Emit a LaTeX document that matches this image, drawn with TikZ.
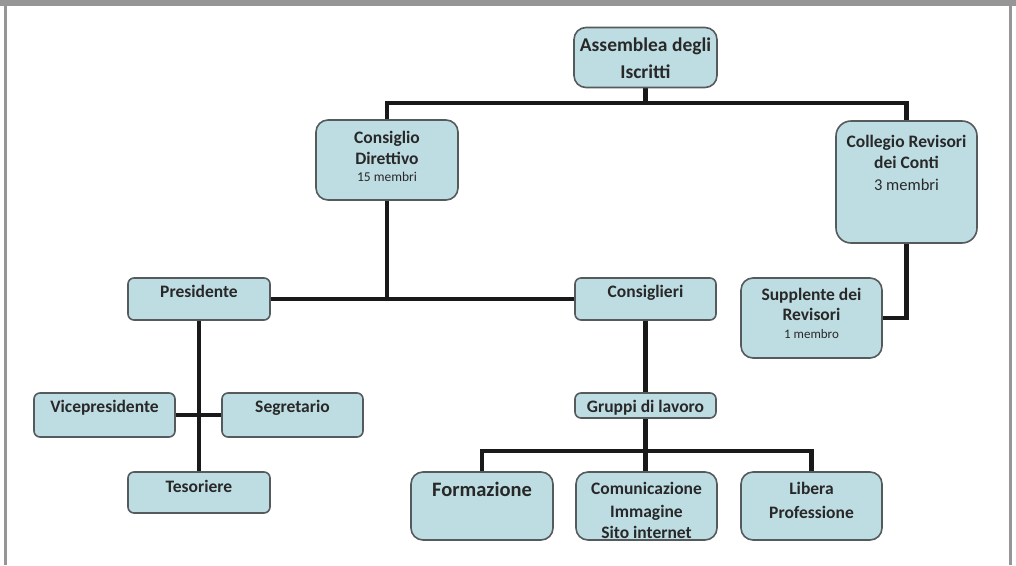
\documentclass[tikz,border=0pt]{standalone}
\usepackage{fontspec}
\setmainfont{Carlito}
\usetikzlibrary{calc,backgrounds}
\definecolor{boxfill}{RGB}{190,221,227}
\definecolor{boxline}{RGB}{85,90,92}
\definecolor{txtcol}{RGB}{40,40,40}
\definecolor{framecol}{RGB}{150,150,150}
\tikzset{
  box/.style={draw=boxline, line width=1.6pt, fill=boxfill, rounded corners=12pt, inner sep=0pt},
  smallbox/.style={box, rounded corners=6pt},
  txt/.style={inner sep=0pt, align=center, text=txtcol, anchor=north, font=\bfseries\fontsize{17.5}{21}\selectfont},
  link/.style={line width=4.5pt, draw=black!90},
}
\begin{document}
\begin{tikzpicture}[x=1pt,y=-1pt]
\useasboundingbox (0,0) rectangle (1016,565);
% frame
\fill[framecol] (0,0) rectangle (1016,6);
\fill[framecol] (4,0) rectangle (7,565);
\fill[framecol] (1009,0) rectangle (1012,565);

% boxes
\node[box, minimum width=143pt, minimum height=60pt] (asm) at (645.5,57.5) {};
\node[box, minimum width=142pt, minimum height=80pt] (cd) at (387,160) {};
\node[box, rounded corners=15pt, minimum width=141pt, minimum height=122pt] (crc) at (906.5,182) {};
\node[box, minimum width=141pt, minimum height=80pt] (sup) at (811.5,318) {};
\node[smallbox, minimum width=142pt, minimum height=42pt] (pres) at (199,299) {};
\node[smallbox, minimum width=141pt, minimum height=42pt] (cons) at (645.5,299) {};
\node[smallbox, minimum width=141pt, minimum height=44pt] (vice) at (104.5,415) {};
\node[smallbox, minimum width=141pt, minimum height=44pt] (seg) at (292.5,415) {};
\node[smallbox, minimum width=142pt, minimum height=41pt] (tes) at (199,492.5) {};
\node[smallbox, minimum width=141pt, minimum height=25pt] (grp) at (645.5,405.5) {};
\node[box, minimum width=142pt, minimum height=68pt] (form) at (482,506) {};
\node[box, minimum width=141pt, minimum height=68pt] (com) at (646.5,506) {};
\node[box, minimum width=141pt, minimum height=68pt] (lib) at (811.5,506) {};

% texts
\node[txt, font=\bfseries\fontsize{19.5}{21}\selectfont] (tasm) at ($(asm.north)+(0,11.3)$) {Assemblea degli\\[6pt]Iscritti};
\node[txt] (tcd) at ($(cd.north)+(0,11.7)$) {Consiglio\\Direttivo\\[-4pt]{\mdseries\fontsize{13.5}{15}\selectfont 15 membri}};
\node[txt] (tcrc) at ($(crc.north)+(0,15.2)$) {Collegio Revisori\\[0pt]dei Conti\\[0.5pt]{\mdseries\fontsize{16.5}{18}\selectfont 3 membri}};
\node[txt] (tsup) at ($(sup.north)+(0,11.2)$) {Supplente dei\\[-1pt]Revisori\\[-3pt]{\mdseries\fontsize{13}{15}\selectfont 1 membro}};
\node[txt] (tpres) at ($(pres.north)+(0,7.4)$) {Presidente};
\node[txt] (tcons) at ($(cons.north)+(0,7.4)$) {Consiglieri};
\node[txt] (tvice) at ($(vice.north)+(0,7.4)$) {Vicepresidente};
\node[txt] (tseg) at ($(seg.north)+(0,7.4)$) {Segretario};
\node[txt] (ttes) at ($(tes.north)+(0,8.4)$) {Tesoriere};
\node[txt] (tgrp) at ($(grp.north)+(0,7.4)$) {Gruppi di lavoro};
\node[txt, font=\bfseries\fontsize{20.5}{22}\selectfont] (tform) at ($(form.north)+(0,10.8)$) {Formazione};
\node[txt] (tcom) at ($(com.north)+(0,10.5)$) {Comunicazione\\[2.5pt]Immagine\\[0pt]Sito internet};
\node[txt] (tlib) at ($(lib.north)+(0,10.5)$) {Libera\\[3pt]Professione};

% connectors
\begin{scope}[on background layer]
\coordinate (j1) at (asm.south |- 0,103);
\draw[link] (asm.south) -- (j1);
\draw[link] (cd.north) |- (j1) -| (crc.north);
\draw[link] (pres.east) -- (cons.west);
\draw[link] (cd.south) -- (cd.south |- pres.east);
\draw[link] (crc.south) |- (sup.east);
\draw[link] (pres.south) -- (tes.north);
\draw[link] (vice.east) -- (seg.west);
\draw[link] (cons.south) -- (grp.north);
\coordinate (j2) at (grp.south |- 0,451);
\draw[link] (grp.south) -- (j2);
\draw[link] (form.north) |- (j2) -| (lib.north);
\draw[link] (j2) -- (com.north -| j2);
\end{scope}
\end{tikzpicture}
\end{document}
